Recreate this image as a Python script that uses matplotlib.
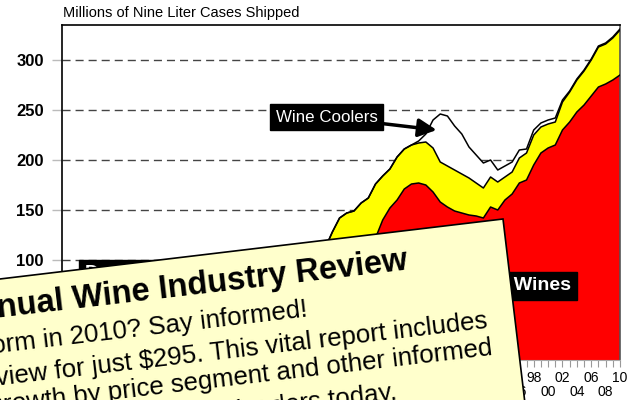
import matplotlib
matplotlib.use('Agg')
import matplotlib.pyplot as plt
from matplotlib.patches import Polygon
import numpy as np

plt.rcParams['font.family'] = ['Liberation Sans', 'DejaVu Sans']

years = list(range(1934, 2011))
table_wine = [5, 7, 9, 10, 10, 11, 12, 13, 14, 12,
              12, 12, 16, 13, 15, 16, 17, 17, 17, 18,
              18, 19, 20, 20, 21, 22, 23, 25, 26, 28,
              31, 34, 37, 41, 47, 54, 62, 70, 78, 86,
              95, 106, 122, 140, 152, 160, 171, 176, 177, 175,
              168, 158, 153, 149, 147, 145, 144, 142, 153, 150,
              160, 166, 177, 180, 195, 207, 212, 215, 230, 238,
              248, 255, 264, 273, 276, 280, 285]
other_wine = [9, 13, 17, 20, 20, 22, 26, 30, 31, 28,
              28, 26, 34, 27, 35, 39, 41, 39, 42, 42,
              43, 43, 44, 44, 44, 44, 46, 47, 45, 46,
              46, 46, 44, 44, 45, 58, 66, 72, 69, 63,
              62, 56, 54, 44, 39, 43, 40, 39, 40, 43,
              44, 40, 41, 41, 39, 37, 33, 30, 30, 28,
              23, 22, 25, 27, 30, 26, 24, 23, 28, 30,
              32, 34, 36, 40, 40, 42, 45]
wine_coolers = [0] * 48 + [2, 8,
                28, 48, 50, 44, 40, 31, 28, 25, 17, 12,
                11, 10, 8, 4, 5, 4, 4, 4, 2, 1,
                1, 1, 1, 1, 1, 1, 1]

y_ticks = [0, 50, 100, 150, 200, 250, 300]
x_major = list(range(1934, 2011, 2))

W, H = 629, 400
fig = plt.figure(figsize=(W / 100, H / 100), dpi=100)
ax = fig.add_axes([62 / W, 40 / H, 558 / W, 335 / H])

yrs = np.array(years)
r = np.array(table_wine, float)
o = np.array(other_wine, float)
c = np.array(wine_coolers, float)
ax.stackplot(yrs, r, o, c, colors=['#ff0000', '#ffff00', '#ffffff'], linewidth=0, zorder=2)
ax.plot(yrs, r, color='black', lw=1.1, zorder=3)
ax.plot(yrs, r + o, color='black', lw=1.1, zorder=3)
ax.plot(yrs, r + o + c, color='black', lw=1.1, zorder=3)

ax.set_xlim(1932.4, 2010)
ax.set_ylim(0, 335)
ax.set_yticks(y_ticks)
ax.set_yticklabels([str(v) for v in y_ticks], fontweight='bold', fontsize=12)
for v in y_ticks[1:]:
    ax.axhline(v, color='#444444', lw=1.0, ls=(0, (5.8, 3.6)), zorder=1)

ax.set_xticks(x_major)
labels = []
for yv in x_major:
    s = '%02d' % (yv % 100)
    labels.append(s if (yv - 1998) % 4 == 0 else '\n' + s)
ax.set_xticklabels(labels, fontsize=10)
for t in ax.get_xticklabels():
    t.set_linespacing(1.0)
ax.set_xticks(years, minor=True)
ax.tick_params(axis='x', which='both', direction='out', length=5, color='#999999', width=0.8, pad=3)
ax.tick_params(axis='y', direction='out', length=7, color='#bbbbbb', width=1, pad=6)

for s in ['top', 'left']:
    ax.spines[s].set_color('black')
    ax.spines[s].set_linewidth(1.2)
ax.spines['right'].set_color('#555555')
ax.spines['right'].set_linewidth(1.2)
ax.spines['bottom'].set_color('#aaaaaa')
ax.spines['bottom'].set_linewidth(0.8)

fig.text(63 / W, 1 - 13 / H, 'Millions of Nine Liter Cases Shipped', fontsize=10.5,
         ha='left', va='center')

box = dict(boxstyle='square,pad=0.35', fc='black', ec='black')
ax.annotate('Wine Coolers', xy=(1984.5, 230), xytext=(1969.2, 243),
            fontsize=12.2, color='white', ha='center', va='center', bbox=box,
            arrowprops=dict(arrowstyle='-|>,head_length=0.9,head_width=0.45', color='black',
                            lw=2.5, shrinkA=0, shrinkB=0), zorder=5)
ax.text(2003.2, 74, 'Table Wines', fontsize=14, fontweight='bold', color='white',
        ha='right', va='center', bbox=dict(boxstyle='square,pad=0.3', fc='black', ec='black'),
        zorder=5)
ax.text(1935.6, 86, 'Dessert Wines', fontsize=14, fontweight='bold', color='white',
        ha='left', va='center', bbox=dict(boxstyle='square,pad=0.3', fc='black', ec='black'),
        zorder=5)

# overlay advertisement card
ov = fig.add_axes([0, 0, 1, 1], zorder=10)
ov.set_xlim(0, W)
ov.set_ylim(H, 0)
ov.axis('off')
th = np.deg2rad(6.8)
tr = np.array([503.0, 219.0])
u = np.array([-np.cos(th), np.sin(th)])
v = np.array([np.sin(th), np.cos(th)])
pts = [tr, tr + 800 * u, tr + 800 * u + 400 * v, tr + 400 * v]
ov.add_patch(Polygon(pts, closed=True, fc='#ffffcc', ec='black', lw=1.2))

rot = 6.7
ov.text(408, 269, '2010 Annual Wine Industry Review', fontsize=23.5, fontweight='bold',
        rotation=rot, rotation_mode='anchor', ha='right', va='baseline')
lines = [((308, 316), 'Will your business outperform in 2010? Say informed!'),
         ((488, 328), 'Order the Review for just $295. This vital report includes'),
         ((493, 355), 'market growth by price segment and other informed'),
         ((398, 399), 'insights for industry leaders today.')]
for (x, y), s in lines:
    ov.text(x, y, s, fontsize=18.6, rotation=rot, rotation_mode='anchor',
            ha='right', va='baseline')

fig.savefig('out.png', dpi=100)
